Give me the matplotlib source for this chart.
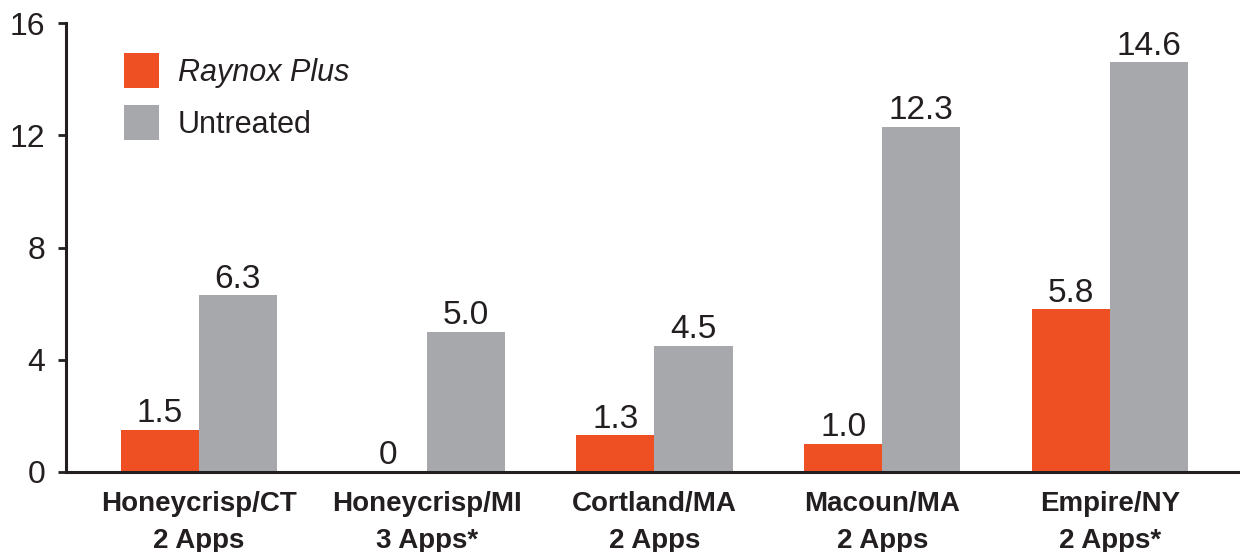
import matplotlib.pyplot as plt
import numpy as np

plt.rcParams['font.family'] = ['Liberation Sans', 'DejaVu Sans']

# data ----------
categories = ["Honeycrisp/CT\n2 Apps", "Honeycrisp/MI\n3 Apps*", "Cortland/MA\n2 Apps",
              "Macoun/MA\n2 Apps", "Empire/NY\n2 Apps*"]
raynox = [1.5, 0, 1.3, 1.0, 5.8]
untreated = [6.3, 5.0, 4.5, 12.3, 14.6]
yticks = [0, 4, 8, 12, 16]

orange = "#EF5023"
gray = "#A7A8AC"
dark = "#231F20"

fig = plt.figure(figsize=(12.4, 5.52), dpi=100)
ax = fig.add_axes([0.0532, 0.145, 0.9468, 0.813])

x = np.arange(len(categories))
w = 0.343
b1 = ax.bar(x - w / 2, raynox, w, color=orange, label="Raynox Plus")
b2 = ax.bar(x + w / 2, untreated, w, color=gray, label="Untreated")

# value labels
for bars, vals in ((b1, raynox), (b2, untreated)):
    for r, v in zip(bars, vals):
        txt = "0" if v == 0 else f"{v:.1f}"
        ax.text(r.get_x() + r.get_width() / 2, v + 0.02, txt,
                ha="center", va="bottom", fontsize=24, color=dark)

ax.set_xlim(-0.583, 4.57)
ax.set_ylim(0, 16)
ax.set_yticks(yticks)
ax.set_xticks(x)
ax.set_xticklabels(categories, fontsize=20, fontweight="bold", color=dark, linespacing=1.55)
ax.tick_params(axis="y", labelsize=23, colors=dark, length=6, width=2, pad=9)
ax.tick_params(axis="x", length=0, pad=14)

for s in ("top", "right"):
    ax.spines[s].set_visible(False)
for s in ("left", "bottom"):
    ax.spines[s].set_color(dark)
    ax.spines[s].set_linewidth(2.2)

leg = ax.legend(loc="upper left", bbox_to_anchor=(0.0494, 0.933), frameon=False,
                fontsize=22, handlelength=1.14, handleheight=1.383, handletextpad=0.62,
                labelspacing=0.55, borderpad=0, borderaxespad=0)
leg.get_texts()[0].set_style("italic")
for t in leg.get_texts():
    t.set_color(dark)

fig.savefig("out.png", dpi=100)
